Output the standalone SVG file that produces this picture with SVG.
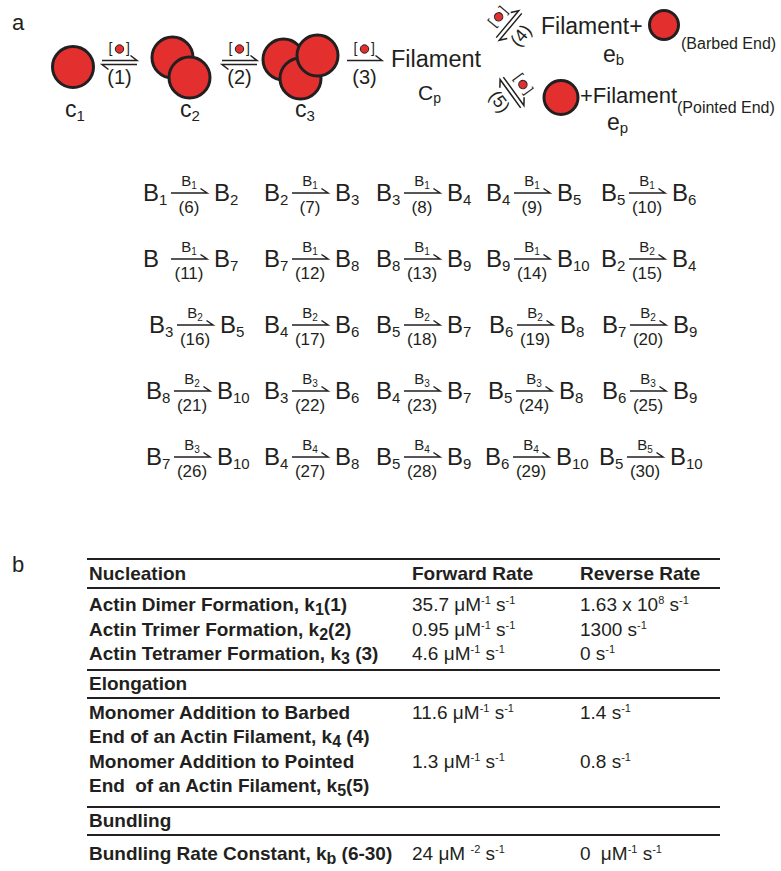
<svg xmlns="http://www.w3.org/2000/svg" width="781" height="871" viewBox="0 0 781 871">
<style>
text{font-family:"Liberation Sans",Arial,sans-serif;fill:#231f20}
.mono{fill:#e3302f;stroke:#231f20;stroke-width:3}
.dot{fill:#e3302f;stroke:#231f20;stroke-width:1}
.ln{fill:none;stroke:#231f20;stroke-width:1.5}
.big{font-size:24px}
.sub{font-size:15px}
.lbl{font-size:15px}
.lsub{font-size:10px}
.num{font-size:17px}
.par{font-size:20px}
.tb{font-size:19px}
.bd{font-weight:bold}
.sup{font-size:11px}
.ks{font-size:16px}
.rule{stroke:#231f20;stroke-width:2}
</style>
<defs>
<g id="brk">
<text x="-9" y="3.5" font-size="14" text-anchor="middle">[</text>
<circle cx="0" cy="0" r="4.2" class="dot"/>
<text x="8.5" y="3.5" font-size="14" text-anchor="middle">]</text>
</g>
<g id="dbl">
<path class="ln" d="M-17.5,0H17.5L11,-5M17.5,4H-17.5L-11,9"/>
<use href="#brk" y="-11.5"/>
</g>
<g id="sgl">
<path class="ln" d="M-17.5,0H17.5L11,-5"/>
<use href="#brk" y="-11.5"/>
</g>
<path id="harp" class="ln" d="M0,0H36L29.5,-4.5"/>
</defs>

<text x="12" y="30" font-size="22">a</text>
<text x="12" y="572" font-size="22">b</text>

<g id="c1">
<circle class="mono" cx="73" cy="67" r="20.5"/>
<text x="65" y="117" font-size="23">c<tspan class="sub" dy="4">1</tspan></text>
</g>
<g id="c2">
<circle class="mono" cx="172.5" cy="57.5" r="20.5"/>
<circle class="mono" cx="189.5" cy="77.5" r="20.5"/>
<text x="180" y="117" font-size="23">c<tspan class="sub" dy="4">2</tspan></text>
</g>
<g id="c3">
<circle class="mono" cx="283.5" cy="59.5" r="20.5"/>
<circle class="mono" cx="300.5" cy="78.5" r="20.5"/>
<circle class="mono" cx="317.5" cy="55.5" r="20.5"/>
<text x="295" y="117" font-size="23">c<tspan class="sub" dy="4">3</tspan></text>
</g>
<g id="filament-cp">
<text x="391" y="67" font-size="23.5">Filament</text>
<text x="418" y="100" font-size="21">C<tspan font-size="14" dy="3">p</tspan></text>
</g>
<g id="barbed-end">
<text x="541" y="34" font-size="23">Filament+</text>
<circle class="mono" cx="664" cy="25" r="14.5"/>
<text x="681" y="49" font-size="16">(Barbed End)</text>
<text x="603" y="62" font-size="23">e<tspan class="sub" dy="3">b</tspan></text>
</g>
<g id="pointed-end">
<circle class="mono" cx="561" cy="97.5" r="17"/>
<text x="580" y="103" font-size="22">+Filament</text>
<text x="677" y="113" font-size="16">(Pointed End)</text>
<text x="607" y="130" font-size="23">e<tspan class="sub" dy="3">p</tspan></text>
</g>

<g id="connectors">
<use href="#dbl" x="119.5" y="60.5"/>
<text class="par" x="119.5" y="84" text-anchor="middle">(1)</text>
<use href="#dbl" x="239.5" y="60.5"/>
<text class="par" x="239.5" y="84" text-anchor="middle">(2)</text>
<use href="#sgl" x="364.5" y="60.5"/>
<text class="par" x="364.5" y="84" text-anchor="middle">(3)</text>
<g transform="translate(509,25.5) rotate(-50)">
<use href="#dbl" y="-2"/>
<text x="0" y="21.5" font-size="18" text-anchor="middle">(4)</text>
</g>
<g transform="translate(512,92.5) rotate(54)">
<use href="#dbl" y="-2"/>
<text x="0" y="21.5" font-size="18" text-anchor="middle">(5)</text>
</g>
</g>

<g id="bundling">
<g id="eq6" transform="translate(143,201)"><text class="big">B<tspan class="sub" dy="4">1</tspan></text><use href="#harp" x="28" y="-8"/><text class="lbl" x="46" y="-15" text-anchor="middle">B<tspan class="lsub" dy="3">1</tspan></text><text class="num" x="46" y="12" text-anchor="middle">(6)</text><text class="big" x="71">B<tspan class="sub" dy="4">2</tspan></text></g>
<g id="eq7" transform="translate(264,201)"><text class="big">B<tspan class="sub" dy="4">2</tspan></text><use href="#harp" x="28" y="-8"/><text class="lbl" x="46" y="-15" text-anchor="middle">B<tspan class="lsub" dy="3">1</tspan></text><text class="num" x="46" y="12" text-anchor="middle">(7)</text><text class="big" x="71">B<tspan class="sub" dy="4">3</tspan></text></g>
<g id="eq8" transform="translate(376,201)"><text class="big">B<tspan class="sub" dy="4">3</tspan></text><use href="#harp" x="28" y="-8"/><text class="lbl" x="46" y="-15" text-anchor="middle">B<tspan class="lsub" dy="3">1</tspan></text><text class="num" x="46" y="12" text-anchor="middle">(8)</text><text class="big" x="71">B<tspan class="sub" dy="4">4</tspan></text></g>
<g id="eq9" transform="translate(486,201)"><text class="big">B<tspan class="sub" dy="4">4</tspan></text><use href="#harp" x="28" y="-8"/><text class="lbl" x="46" y="-15" text-anchor="middle">B<tspan class="lsub" dy="3">1</tspan></text><text class="num" x="46" y="12" text-anchor="middle">(9)</text><text class="big" x="71">B<tspan class="sub" dy="4">5</tspan></text></g>
<g id="eq10" transform="translate(601,201)"><text class="big">B<tspan class="sub" dy="4">5</tspan></text><use href="#harp" x="28" y="-8"/><text class="lbl" x="46" y="-15" text-anchor="middle">B<tspan class="lsub" dy="3">1</tspan></text><text class="num" x="46" y="12" text-anchor="middle">(10)</text><text class="big" x="71">B<tspan class="sub" dy="4">6</tspan></text></g>
<g id="eq11" transform="translate(143,267)"><text class="big">B</text><use href="#harp" x="28" y="-8"/><text class="lbl" x="46" y="-15" text-anchor="middle">B<tspan class="lsub" dy="3">1</tspan></text><text class="num" x="46" y="12" text-anchor="middle">(11)</text><text class="big" x="71">B<tspan class="sub" dy="4">7</tspan></text></g>
<g id="eq12" transform="translate(264,267)"><text class="big">B<tspan class="sub" dy="4">7</tspan></text><use href="#harp" x="28" y="-8"/><text class="lbl" x="46" y="-15" text-anchor="middle">B<tspan class="lsub" dy="3">1</tspan></text><text class="num" x="46" y="12" text-anchor="middle">(12)</text><text class="big" x="71">B<tspan class="sub" dy="4">8</tspan></text></g>
<g id="eq13" transform="translate(376,267)"><text class="big">B<tspan class="sub" dy="4">8</tspan></text><use href="#harp" x="28" y="-8"/><text class="lbl" x="46" y="-15" text-anchor="middle">B<tspan class="lsub" dy="3">1</tspan></text><text class="num" x="46" y="12" text-anchor="middle">(13)</text><text class="big" x="71">B<tspan class="sub" dy="4">9</tspan></text></g>
<g id="eq14" transform="translate(486,267)"><text class="big">B<tspan class="sub" dy="4">9</tspan></text><use href="#harp" x="28" y="-8"/><text class="lbl" x="46" y="-15" text-anchor="middle">B<tspan class="lsub" dy="3">1</tspan></text><text class="num" x="46" y="12" text-anchor="middle">(14)</text><text class="big" x="71">B<tspan class="sub" dy="4">10</tspan></text></g>
<g id="eq15" transform="translate(601,267)"><text class="big">B<tspan class="sub" dy="4">2</tspan></text><use href="#harp" x="28" y="-8"/><text class="lbl" x="46" y="-15" text-anchor="middle">B<tspan class="lsub" dy="3">2</tspan></text><text class="num" x="46" y="12" text-anchor="middle">(15)</text><text class="big" x="71">B<tspan class="sub" dy="4">4</tspan></text></g>
<g id="eq16" transform="translate(149,333)"><text class="big">B<tspan class="sub" dy="4">3</tspan></text><use href="#harp" x="28" y="-8"/><text class="lbl" x="46" y="-15" text-anchor="middle">B<tspan class="lsub" dy="3">2</tspan></text><text class="num" x="46" y="12" text-anchor="middle">(16)</text><text class="big" x="71">B<tspan class="sub" dy="4">5</tspan></text></g>
<g id="eq17" transform="translate(264,333)"><text class="big">B<tspan class="sub" dy="4">4</tspan></text><use href="#harp" x="28" y="-8"/><text class="lbl" x="46" y="-15" text-anchor="middle">B<tspan class="lsub" dy="3">2</tspan></text><text class="num" x="46" y="12" text-anchor="middle">(17)</text><text class="big" x="71">B<tspan class="sub" dy="4">6</tspan></text></g>
<g id="eq18" transform="translate(376,333)"><text class="big">B<tspan class="sub" dy="4">5</tspan></text><use href="#harp" x="28" y="-8"/><text class="lbl" x="46" y="-15" text-anchor="middle">B<tspan class="lsub" dy="3">2</tspan></text><text class="num" x="46" y="12" text-anchor="middle">(18)</text><text class="big" x="71">B<tspan class="sub" dy="4">7</tspan></text></g>
<g id="eq19" transform="translate(489,333)"><text class="big">B<tspan class="sub" dy="4">6</tspan></text><use href="#harp" x="28" y="-8"/><text class="lbl" x="46" y="-15" text-anchor="middle">B<tspan class="lsub" dy="3">2</tspan></text><text class="num" x="46" y="12" text-anchor="middle">(19)</text><text class="big" x="71">B<tspan class="sub" dy="4">8</tspan></text></g>
<g id="eq20" transform="translate(602,333)"><text class="big">B<tspan class="sub" dy="4">7</tspan></text><use href="#harp" x="28" y="-8"/><text class="lbl" x="46" y="-15" text-anchor="middle">B<tspan class="lsub" dy="3">2</tspan></text><text class="num" x="46" y="12" text-anchor="middle">(20)</text><text class="big" x="71">B<tspan class="sub" dy="4">9</tspan></text></g>
<g id="eq21" transform="translate(146,399)"><text class="big">B<tspan class="sub" dy="4">8</tspan></text><use href="#harp" x="28" y="-8"/><text class="lbl" x="46" y="-15" text-anchor="middle">B<tspan class="lsub" dy="3">2</tspan></text><text class="num" x="46" y="12" text-anchor="middle">(21)</text><text class="big" x="71">B<tspan class="sub" dy="4">10</tspan></text></g>
<g id="eq22" transform="translate(264,399)"><text class="big">B<tspan class="sub" dy="4">3</tspan></text><use href="#harp" x="28" y="-8"/><text class="lbl" x="46" y="-15" text-anchor="middle">B<tspan class="lsub" dy="3">3</tspan></text><text class="num" x="46" y="12" text-anchor="middle">(22)</text><text class="big" x="71">B<tspan class="sub" dy="4">6</tspan></text></g>
<g id="eq23" transform="translate(376,399)"><text class="big">B<tspan class="sub" dy="4">4</tspan></text><use href="#harp" x="28" y="-8"/><text class="lbl" x="46" y="-15" text-anchor="middle">B<tspan class="lsub" dy="3">3</tspan></text><text class="num" x="46" y="12" text-anchor="middle">(23)</text><text class="big" x="71">B<tspan class="sub" dy="4">7</tspan></text></g>
<g id="eq24" transform="translate(488,399)"><text class="big">B<tspan class="sub" dy="4">5</tspan></text><use href="#harp" x="28" y="-8"/><text class="lbl" x="46" y="-15" text-anchor="middle">B<tspan class="lsub" dy="3">3</tspan></text><text class="num" x="46" y="12" text-anchor="middle">(24)</text><text class="big" x="71">B<tspan class="sub" dy="4">8</tspan></text></g>
<g id="eq25" transform="translate(602,399)"><text class="big">B<tspan class="sub" dy="4">6</tspan></text><use href="#harp" x="28" y="-8"/><text class="lbl" x="46" y="-15" text-anchor="middle">B<tspan class="lsub" dy="3">3</tspan></text><text class="num" x="46" y="12" text-anchor="middle">(25)</text><text class="big" x="71">B<tspan class="sub" dy="4">9</tspan></text></g>
<g id="eq26" transform="translate(146,465)"><text class="big">B<tspan class="sub" dy="4">7</tspan></text><use href="#harp" x="28" y="-8"/><text class="lbl" x="46" y="-15" text-anchor="middle">B<tspan class="lsub" dy="3">3</tspan></text><text class="num" x="46" y="12" text-anchor="middle">(26)</text><text class="big" x="71">B<tspan class="sub" dy="4">10</tspan></text></g>
<g id="eq27" transform="translate(264,465)"><text class="big">B<tspan class="sub" dy="4">4</tspan></text><use href="#harp" x="28" y="-8"/><text class="lbl" x="46" y="-15" text-anchor="middle">B<tspan class="lsub" dy="3">4</tspan></text><text class="num" x="46" y="12" text-anchor="middle">(27)</text><text class="big" x="71">B<tspan class="sub" dy="4">8</tspan></text></g>
<g id="eq28" transform="translate(376,465)"><text class="big">B<tspan class="sub" dy="4">5</tspan></text><use href="#harp" x="28" y="-8"/><text class="lbl" x="46" y="-15" text-anchor="middle">B<tspan class="lsub" dy="3">4</tspan></text><text class="num" x="46" y="12" text-anchor="middle">(28)</text><text class="big" x="71">B<tspan class="sub" dy="4">9</tspan></text></g>
<g id="eq29" transform="translate(485,465)"><text class="big">B<tspan class="sub" dy="4">6</tspan></text><use href="#harp" x="28" y="-8"/><text class="lbl" x="46" y="-15" text-anchor="middle">B<tspan class="lsub" dy="3">4</tspan></text><text class="num" x="46" y="12" text-anchor="middle">(29)</text><text class="big" x="71">B<tspan class="sub" dy="4">10</tspan></text></g>
<g id="eq30" transform="translate(599,465)"><text class="big">B<tspan class="sub" dy="4">5</tspan></text><use href="#harp" x="28" y="-8"/><text class="lbl" x="46" y="-15" text-anchor="middle">B<tspan class="lsub" dy="3">5</tspan></text><text class="num" x="46" y="12" text-anchor="middle">(30)</text><text class="big" x="71">B<tspan class="sub" dy="4">10</tspan></text></g>
</g>

<g id="table">
<line class="rule" x1="87" y1="559" x2="720" y2="559"/>
<line class="rule" x1="87" y1="588" x2="720" y2="588"/>
<line class="rule" x1="87" y1="670" x2="720" y2="670"/>
<line class="rule" x1="87" y1="698" x2="720" y2="698"/>
<line class="rule" x1="87" y1="807" x2="720" y2="807"/>
<line class="rule" x1="87" y1="835" x2="720" y2="835"/>

<text class="tb bd" x="89" y="580">Nucleation</text>
<text class="tb bd" x="412" y="580">Forward Rate</text>
<text class="tb bd" x="580" y="580">Reverse Rate</text>

<text class="tb bd" x="89" y="611">Actin Dimer Formation, k<tspan class="ks" dy="4">1</tspan><tspan dy="-4">(1)</tspan></text>
<text class="tb" x="412" y="611">35.7 μM<tspan class="sup" dy="-7">-1</tspan><tspan dy="7"> s</tspan><tspan class="sup" dy="-7">-1</tspan></text>
<text class="tb" x="580" y="611">1.63 x 10<tspan class="sup" dy="-7">8</tspan><tspan dy="7"> s</tspan><tspan class="sup" dy="-7">-1</tspan></text>

<text class="tb bd" x="89" y="636">Actin Trimer Formation, k<tspan class="ks" dy="4">2</tspan><tspan dy="-4">(2)</tspan></text>
<text class="tb" x="412" y="636">0.95 μM<tspan class="sup" dy="-7">-1</tspan><tspan dy="7"> s</tspan><tspan class="sup" dy="-7">-1</tspan></text>
<text class="tb" x="580" y="636">1300 s<tspan class="sup" dy="-7">-1</tspan></text>

<text class="tb bd" x="89" y="660">Actin Tetramer Formation, k<tspan class="ks" dy="4">3</tspan><tspan dy="-4"> (3)</tspan></text>
<text class="tb" x="412" y="660">4.6 μM<tspan class="sup" dy="-7">-1</tspan><tspan dy="7"> s</tspan><tspan class="sup" dy="-7">-1</tspan></text>
<text class="tb" x="580" y="660">0 s<tspan class="sup" dy="-7">-1</tspan></text>

<text class="tb bd" x="89" y="690">Elongation</text>

<text class="tb bd" x="89" y="719">Monomer Addition to Barbed</text>
<text class="tb" x="412" y="719">11.6 μM<tspan class="sup" dy="-7">-1</tspan><tspan dy="7"> s</tspan><tspan class="sup" dy="-7">-1</tspan></text>
<text class="tb" x="580" y="719">1.4 s<tspan class="sup" dy="-7">-1</tspan></text>
<text class="tb bd" x="89" y="743">End of an Actin Filament, k<tspan class="ks" dy="4">4</tspan><tspan dy="-4"> (4)</tspan></text>

<text class="tb bd" x="89" y="768">Monomer Addition to Pointed</text>
<text class="tb" x="412" y="768">1.3 μM<tspan class="sup" dy="-7">-1</tspan><tspan dy="7"> s</tspan><tspan class="sup" dy="-7">-1</tspan></text>
<text class="tb" x="580" y="768">0.8 s<tspan class="sup" dy="-7">-1</tspan></text>
<text class="tb bd" x="89" y="792">End<tspan dx="5"> of an Actin Filament, k</tspan><tspan class="ks" dy="4">5</tspan><tspan dy="-4">(5)</tspan></text>

<text class="tb bd" x="89" y="827">Bundling</text>

<text class="tb bd" x="89" y="860">Bundling Rate Constant, k<tspan class="ks" dy="4">b</tspan><tspan dy="-4"> (6-30)</tspan></text>
<text class="tb" x="412" y="860">24 μM <tspan class="sup" dy="-7">-2</tspan><tspan dy="7"> s</tspan><tspan class="sup" dy="-7">-1</tspan></text>
<text class="tb" x="580" y="860">0<tspan dx="5"> μM</tspan><tspan class="sup" dy="-7">-1</tspan><tspan dy="7"> s</tspan><tspan class="sup" dy="-7">-1</tspan></text>
</g>
</svg>
